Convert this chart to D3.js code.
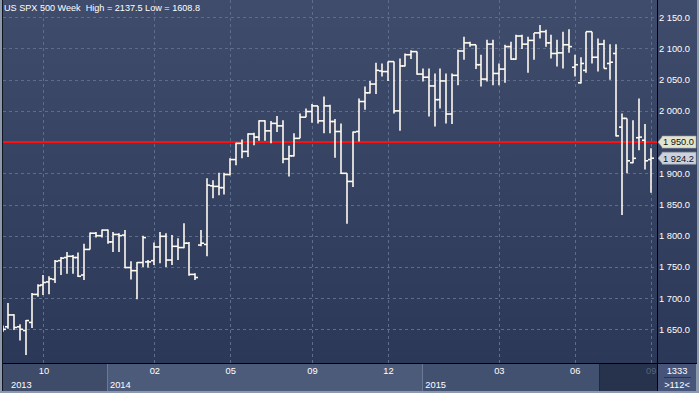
<!DOCTYPE html>
<html><head><meta charset="utf-8">
<script src="https://cdn.jsdelivr.net/npm/d3@7"></script>
<style>html,body{margin:0;padding:0;background:#8a96aa;}svg{display:block;}text{font-family:"Liberation Sans",Arial,sans-serif;}</style>
</head><body>
<script>
// ---- data (weekly OHLC) ----
const opens  = [1652,1654,1673,1654,1648,1661,1706,1721,1726,1730,1760,1765,1767,1765,1737,1778,1804,1800,1809,1790,1802,1801,1749,1744,1757,1758,1760,1782,1799,1761,1783,1781,1788,1738,1785,1786,1880,1879,1877,1898,1922,1948,1935,1963,1958,1984,1968,1980,1976,1923,1928,1956,1990,1999,2008,1984,2008,1983,1967,1900,1887,1967,2015,2029,2043,2064,2063,2079,2000,2072,2090,2095,2059,2054,2040,2018,2048,1995,2057,2096,2109,2106,2074,2051,2107,2060,2067,2103,2083,2120,2107,2113,2125,2127,2109,2092,2093,2106,2070,2045,2065,2127,2086,2107,2076,2092,1974,1988,1917,1957,1953,1922];
const highs  = [1656,1692,1674,1658,1665,1708,1722,1737,1735,1761,1766,1774,1769,1773,1787,1805,1806,1810,1810,1806,1804,1809,1759,1758,1800,1761,1789,1806,1804,1801,1796,1820,1790,1740,1809,1892,1889,1901,1901,1924,1949,1954,1964,1965,1985,1985,1984,1992,1985,1944,1964,1996,2004,2011,2008,2023,2010,1987,1980,1900,1967,2020,2039,2048,2077,2076,2079,2079,2084,2092,2097,2095,2068,2068,2060,2068,2060,2060,2098,2119,2111,2106,2090,2114,2114,2076,2106,2111,2122,2122,2119,2125,2137.5,2130,2122,2114,2127,2131,2090,2086,2127,2127,2116,2114,2107,2107,1996,1988,1985,2020,1979,1940];
const lows   = [1646,1651,1649,1632,1608.8,1652,1702,1705,1706,1724,1737,1739,1739,1734,1729,1778,1797,1797,1787,1774,1774,1748,1730,1698,1750,1749,1753,1756,1750,1753,1761,1780,1736,1729,1783,1767,1860,1865,1866,1897,1913,1924,1926,1945,1952,1952,1948,1966,1916,1895,1927,1956,1990,1981,1980,1964,1964,1925,1899,1819,1878,1951,2002,2028,2027,2055,2048,1996,1968,2071,2083,2058,2047,1991,1975,2004,1980,1979,2041,2082,2103,2067,2039,2047,2041,2041,2045,2082,2082,2099,2061,2082,2116,2103,2084,2071,2068,2093,2055,2044,2061,2076,2063,2068,2050,1959,1833,1900,1916,1937,1906,1869];
const closes = [1650,1673,1653,1650,1664,1706,1720,1725,1731,1759,1764,1767,1765,1735,1778,1804,1800,1809,1790,1802,1800,1749,1744,1757,1797,1758,1782,1799,1761,1783,1781,1788,1738,1733,1788,1881,1879,1877,1898,1922,1948,1935,1963,1958,1984,1968,1980,1976,1923,1928,1956,1990,1999,2008,1984,2008,1983,1967,1900,1887,1966,2015,2029,2043,2065,2063,2079,2000,2072,2090,2095,2059,2054,2040,2018,2048,1995,2057,2096,2109,2106,2074,2051,2107,2060,2067,2103,2083,2120,2107,2113,2125,2127,2109,2092,2093,2106,2103,2074,2076,2127,2086,2107,2068,2078,1960,1988,1920,1924,1958,1920,1924.2];
const priceTicks = [1650,1700,1750,1800,1850,1900,1950,2000,2050,2100,2150];
const monthTickIdx = [7,26,39,53,66,85,98,111];
const monthLabels  = ["10","02","05","09","12","03","06","09"];
const yearStartIdx = [0,17.9,71.9];
const yearLabels   = ["2013","2014","2015"];
const futureStartIdx = 102.2;
const refLevel = 1950.0;
const barsShown = 112, counterValue = 1333;

// ---- layout ----
const W = 699, H = 393;
const plot = {l: 3, r: 657, t: 0, b: 363};
const FS = "9.3px";
const x = d3.scaleLinear().domain([0, 111]).range([2.5, 650.7]);
const y = d3.scaleLinear().domain([1650, 2150]).range([329.3, 17.3]);
const fmt = d3.formatLocale({decimal: ".", thousands: " ", grouping: [3], currency: ["", ""]}).format(",.1f");

const svg = d3.select("body").append("svg").attr("width", W).attr("height", H);
const defs = svg.append("defs");
const g1 = defs.append("linearGradient").attr("id", "bg").attr("x1", 0).attr("y1", 0).attr("x2", 0).attr("y2", 1);
g1.append("stop").attr("offset", "0%").attr("stop-color", "#3f4c6b");
g1.append("stop").attr("offset", "100%").attr("stop-color", "#2c3857");
defs.append("clipPath").attr("id", "clip").append("rect")
  .attr("x", plot.l).attr("y", plot.t).attr("width", plot.r - plot.l).attr("height", plot.b - plot.t);

// outer border
svg.append("rect").attr("width", W).attr("height", H).attr("fill", "#8c98ac");
// chart + right axis background
svg.append("rect").attr("x", 2).attr("y", 0).attr("width", W - 4).attr("height", plot.b + 1).attr("fill", "url(#bg)");

// grid
const grid = svg.append("g").attr("clip-path", "url(#clip)");
grid.selectAll("line.h").data(priceTicks).join("line")
  .attr("x1", plot.l).attr("x2", plot.r)
  .attr("y1", d => Math.round(y(d)) + 0.5).attr("y2", d => Math.round(y(d)) + 0.5)
  .attr("stroke", "#5d6d8c").attr("stroke-width", 1).attr("stroke-dasharray", "3,3");
grid.selectAll("line.v").data(monthTickIdx).join("line")
  .attr("x1", d => Math.round(x(d)) + 0.5).attr("x2", d => Math.round(x(d)) + 0.5)
  .attr("y1", plot.t).attr("y2", plot.b)
  .attr("stroke", "#5d6d8c").attr("stroke-width", 1).attr("stroke-dasharray", "3,3");

// reference line
grid.append("line").attr("x1", plot.l).attr("x2", plot.r)
  .attr("y1", y(refLevel)).attr("y2", y(refLevel))
  .attr("stroke", "#ff1010").attr("stroke-width", 2);

// OHLC bars
const idx = d3.range(opens.length);
const bars = svg.append("g").attr("clip-path", "url(#clip)")
  .attr("stroke", "#fffaf0").attr("stroke-width", 1.6).attr("fill", "none");
const px = i => Math.round(x(i));
bars.selectAll("line.hl").data(idx).join("line")
  .attr("x1", px).attr("x2", px)
  .attr("y1", i => y(highs[i])).attr("y2", i => y(lows[i]));
bars.selectAll("line.o").data(idx).join("line")
  .attr("x1", i => px(i) - 3).attr("x2", px)
  .attr("y1", i => y(opens[i])).attr("y2", i => y(opens[i]));
bars.selectAll("line.c").data(idx).join("line")
  .attr("x1", px).attr("x2", i => px(i) + 3)
  .attr("y1", i => y(closes[i])).attr("y2", i => y(closes[i]));

// title
svg.append("text").attr("x", 4).attr("y", 11).attr("fill", "#ffffff")
  .attr("font-size", "9.1px").style("white-space", "pre")
  .text(`US SPX 500 Week  High = ${d3.max(highs)} Low = ${d3.min(lows)}`);

// right axis
const ax = svg.append("g").attr("transform", `translate(${plot.r},0)`)
  .call(d3.axisRight(y).tickValues(priceTicks.filter(d => d !== refLevel)).tickSize(0).tickPadding(2).tickFormat(fmt));
ax.select(".domain").remove();
ax.selectAll("text").attr("fill", "#ffffff").attr("font-size", FS)
  .style("font-family", "'Liberation Sans', Arial, sans-serif");

// value boxes
function valueBox(v, fill) {
  const cy = y(v), g = svg.append("g");
  g.append("path").attr("d", `M${plot.r + 1},${cy} L${plot.r + 5},${cy - 5} L${plot.r + 5},${cy - 6} L${W - 3},${cy - 6} L${W - 3},${cy + 6} L${plot.r + 5},${cy + 6} L${plot.r + 5},${cy + 5} Z`)
    .attr("fill", fill).attr("stroke", "#9aa4b4").attr("stroke-width", 0.6);
  g.append("text").attr("x", plot.r + 6).attr("y", cy).attr("dy", "0.36em")
    .attr("fill", "#111111").attr("font-size", FS).text(fmt(v));
}
valueBox(refLevel, "#e4e4cc");
valueBox(closes[closes.length - 1], "#cdd2dc");

// bottom band
const band = svg.append("g");
const bandT = plot.b + 1, bandB = H - 2;
const segs = [
  {a: plot.l, b: x(yearStartIdx[1]), fill: "#3e4b69"},
  {a: x(yearStartIdx[1]), b: x(yearStartIdx[2]), fill: "#4d5b7a"},
  {a: x(yearStartIdx[2]), b: x(futureStartIdx), fill: "#435171"},
  {a: x(futureStartIdx), b: plot.r, fill: "#27324c"}
];
band.selectAll("rect.seg").data(segs).join("rect")
  .attr("x", d => d.a).attr("y", bandT).attr("width", d => d.b - d.a).attr("height", bandB - bandT)
  .attr("fill", d => d.fill);
band.selectAll("line.sep").data(yearStartIdx.slice(1)).join("line")
  .attr("x1", d => Math.round(x(d)) + 0.5).attr("x2", d => Math.round(x(d)) + 0.5)
  .attr("y1", bandT).attr("y2", bandB).attr("stroke", "#6b7995").attr("stroke-width", 1);
band.append("line").attr("x1", Math.round(x(futureStartIdx)) + 0.5).attr("x2", Math.round(x(futureStartIdx)) + 0.5)
  .attr("y1", bandT).attr("y2", bandB).attr("stroke", "#1e2740");

const bx = svg.append("g").attr("transform", `translate(0,${bandT})`)
  .call(d3.axisBottom(x).tickValues(monthTickIdx).tickSize(0).tickPadding(3).tickFormat((d, i) => monthLabels[i]));
bx.select(".domain").remove();
bx.selectAll("text").attr("font-size", FS)
  .style("font-family", "'Liberation Sans', Arial, sans-serif")
  .attr("fill", d => d >= futureStartIdx ? "#56647f" : "#ffffff");

band.selectAll("text.yr").data(yearLabels).join("text")
  .attr("x", (d, i) => (i === 0 ? plot.l : x(yearStartIdx[i])) + (i === 0 ? 8 : 3))
  .attr("y", bandB - 3).attr("fill", "#ffffff").attr("font-size", FS).text(d => d);

// counter box
svg.append("rect").attr("x", plot.r + 1).attr("y", bandT).attr("width", W - 3 - plot.r - 1).attr("height", bandB - bandT).attr("fill", "#46547a");
svg.append("text").attr("x", (plot.r + W - 2) / 2).attr("y", bandT + 10).attr("text-anchor", "middle")
  .attr("fill", "#ffffff").attr("font-size", FS).text(counterValue);
svg.append("line").attr("x1", plot.r + 7).attr("x2", W - 8).attr("y1", bandT + 13.5).attr("y2", bandT + 13.5).attr("stroke", "#2a3450");
svg.append("text").attr("x", (plot.r + W - 2) / 2).attr("y", bandB - 3).attr("text-anchor", "middle")
  .attr("fill", "#ffffff").attr("font-size", FS).text(`>${barsShown}<`);

// frame lines
svg.append("line").attr("x1", 2).attr("x2", W - 2).attr("y1", plot.b + 0.5).attr("y2", plot.b + 0.5).attr("stroke", "#000000");
svg.append("line").attr("x1", plot.r + 0.5).attr("x2", plot.r + 0.5).attr("y1", 0).attr("y2", bandB).attr("stroke", "#000000");
svg.append("line").attr("x1", 2.5).attr("x2", 2.5).attr("y1", 0).attr("y2", bandB).attr("stroke", "#10151f");
</script>
</body></html>
